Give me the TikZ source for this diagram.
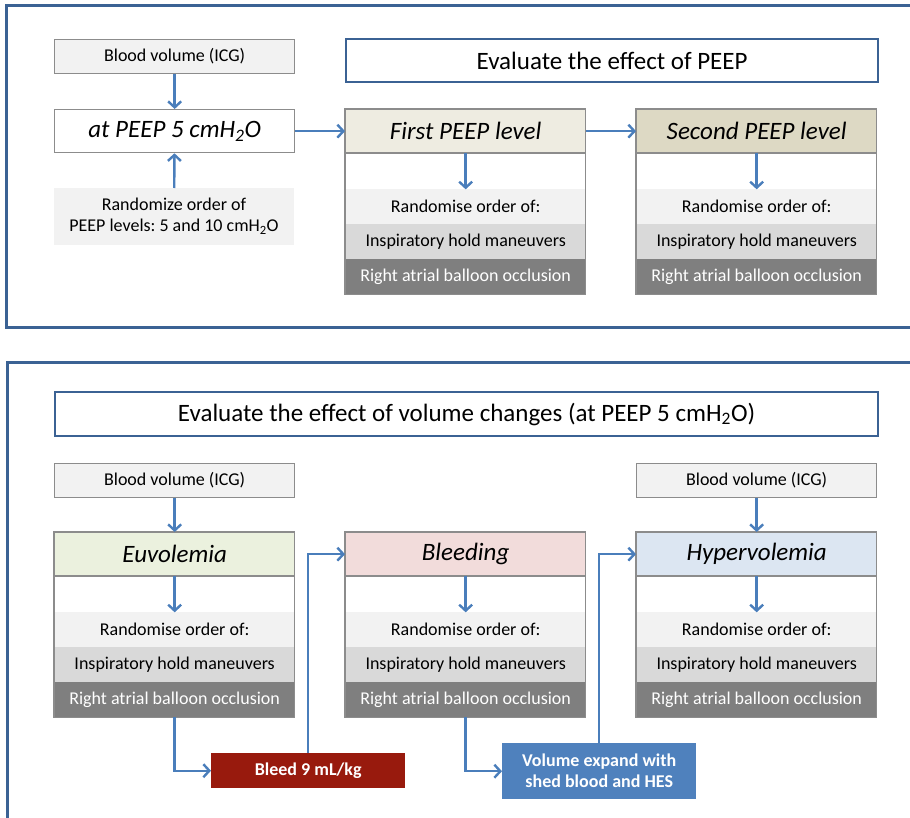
\documentclass[tikz,border=0pt]{standalone}
\usepackage{fontspec}
\setmainfont{Carlito}
\usetikzlibrary{arrows.meta,positioning,calc}
\definecolor{frameblue}{RGB}{59,98,148}
\definecolor{flowblue}{RGB}{74,126,187}
\definecolor{boxgray}{RGB}{140,140,140}
\definecolor{rowlight}{RGB}{242,242,242}
\definecolor{rowmid}{RGB}{217,217,217}
\definecolor{rowdark}{RGB}{127,127,127}
\definecolor{hdrfirst}{RGB}{238,236,225}
\definecolor{hdrsecond}{RGB}{221,217,196}
\definecolor{hdreuvo}{RGB}{235,241,222}
\definecolor{hdrbleed}{RGB}{242,220,219}
\definecolor{hdrhyper}{RGB}{220,230,242}
\definecolor{bleedred}{RGB}{152,26,13}
\definecolor{volblue}{RGB}{79,129,189}
\frenchspacing
\newcommand{\smalltxt}{\fontsize{18}{21}\selectfont}
\newcommand{\bigtxt}{\fontsize{25}{29}\selectfont}
\newcommand{\stagebox}[5]{%
  \node[hdr, fill=#4, anchor=north west] (#1) at (#2,#3) {#5};
  \node[row, fill=rowlight, below=36pt of #1] (#1r) {Randomise order of:};
  \node[row, fill=rowmid, below=0pt of #1r] (#1i) {Inspiratory hold maneuvers};
  \node[row, fill=rowdark, text=white, below=0pt of #1i] (#1o) {Right atrial balloon occlusion};
  \draw[edge] (#1.north west) rectangle (#1o.south east);
  \draw[edge] (#1.south west) -- (#1.south east);
  \draw[flow] (#1.south) -- (#1r.north);}
\tikzset{
  frame/.style={frameblue, line width=3pt},
  titlebox/.style={draw=frameblue, line width=2.2pt, fill=white, font=\bigtxt, inner sep=0pt},
  infobox/.style={draw=boxgray, line width=1.3pt, fill=rowlight, minimum width=240pt, minimum height=34pt, inner sep=0pt, font=\smalltxt},
  hdr/.style={draw=boxgray, line width=1.3pt, minimum width=240pt, minimum height=43pt, inner sep=0pt, font=\bigtxt\itshape},
  row/.style={minimum width=240pt, minimum height=35pt, inner sep=0pt, outer sep=0pt, font=\smalltxt},
  edge/.style={boxgray, line width=1.3pt},
  actbox/.style={minimum width=194pt, inner sep=0pt, text=white, font=\smalltxt\bfseries, align=center},
  flow/.style={-{Straight Barb[length=6pt,width=13pt,line width=2.4pt]}, flowblue, line width=2.4pt},
}
\begin{document}
\begin{tikzpicture}[x=1pt, y=-1pt]
\useasboundingbox (0,0) rectangle (910,818);
\clip (0,0) rectangle (910,818);
%---- PEEP part
\draw[frame] (6,6) rectangle (920,327);
\node[titlebox, minimum width=532pt, minimum height=43pt, anchor=north west] (peeptitle) at (345,38) {Evaluate the effect of PEEP};
\node[infobox, anchor=north west] (bvpeep) at (54,39) {Blood volume (ICG)};
\node[hdr, fill=white, anchor=north west] (peepfive) at (54,109) {at PEEP 5 cmH\textsubscript{2}O};
\node[row, fill=rowlight, minimum height=57pt, align=center, anchor=north west] (randpeep) at (54,188)
     {Randomize order of\\PEEP levels: 5 and 10 cmH\textsubscript{2}O};
\stagebox{first}{345}{109}{hdrfirst}{First PEEP level}
\stagebox{second}{636}{109}{hdrsecond}{Second PEEP level}
\draw[flow] (bvpeep) -- (peepfive);
\draw[flow] (randpeep) -- (peepfive);
\draw[flow] (peepfive) -- (first);
\draw[flow] (first) -- (second);
%---- volume part
\draw[frame] (7,362) rectangle (920,840);
\node[titlebox, minimum width=823pt, minimum height=44pt, anchor=north west] (voltitle) at (54,391)
     {Evaluate the effect of volume changes (at PEEP 5 cmH\textsubscript{2}O)};
\node[infobox, anchor=north west] (bveuvo) at (54,463) {Blood volume (ICG)};
\node[infobox, anchor=north west] (bvhyper) at (636,463) {Blood volume (ICG)};
\stagebox{euvo}{54}{532}{hdreuvo}{Euvolemia}
\stagebox{bleeding}{345}{532}{hdrbleed}{Bleeding}
\stagebox{hyper}{636}{532}{hdrhyper}{Hypervolemia}
\node[actbox, fill=bleedred, minimum height=35pt, anchor=north west] (bleed) at (211,753) {Bleed 9 mL/kg};
\node[actbox, fill=volblue, minimum height=56pt, anchor=north west] (volexp) at (502,743) {Volume expand with\\shed blood and HES};
\draw[flow] (bveuvo) -- (euvo);
\draw[flow] (bvhyper) -- (hyper);
\draw[flow] (euvoo.south) |- (bleed.west);
\draw[flow] (bleed.north) |- (bleeding.west);
\draw[flow] (bleedingo.south) |- (volexp.west);
\draw[flow] (volexp.north) |- (hyper.west);
\end{tikzpicture}
\end{document}
